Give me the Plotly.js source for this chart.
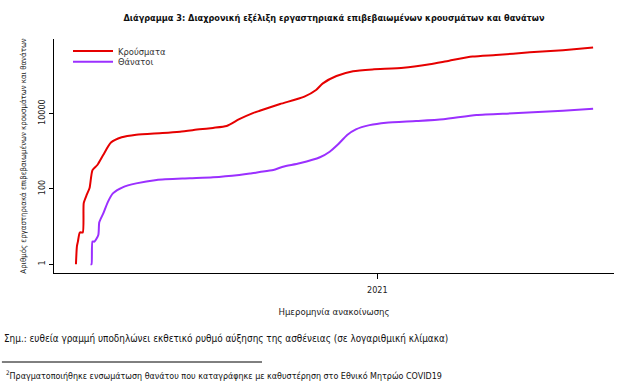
<!DOCTYPE html>
<html>
<head>
<meta charset="utf-8">
<script src="https://cdn.plot.ly/plotly-3.0.1.min.js"></script>
<style>html,body{margin:0;padding:0;background:#fff;}#chart{width:631px;height:382px;}</style>
</head>
<body>
<div id="chart"></div>
<script>
var casesDates = ['2020-02-26','2020-02-27','2020-02-28','2020-03-01','2020-03-04','2020-03-05','2020-03-08','2020-03-11','2020-03-14','2020-03-19','2020-03-25','2020-04-02','2020-04-13','2020-04-28','2020-05-25','2020-06-12','2020-07-02','2020-07-16','2020-07-30','2020-08-12','2020-08-26','2020-09-02','2020-09-23','2020-10-18','2020-10-30','2020-11-06','2020-11-20','2020-12-07','2020-12-27','2021-01-28','2021-02-24','2021-03-16','2021-04-09','2021-05-03','2021-06-07','2021-07-11','2021-08-11'];
var casesValues = [1,3,4,7,7,42,69,105,315,430,790,1690,2340,2740,3030,3300,3800,4150,4650,7050,10200,11800,17800,28000,41900,63000,98500,132000,148000,163000,203000,252000,323000,356000,419000,479000,559000];

// Cumulative deaths
var deathsDates = ['2020-03-12','2020-03-13','2020-03-14','2020-03-16','2020-03-20','2020-03-21','2020-03-25','2020-03-30','2020-04-04','2020-04-14','2020-04-28','2020-05-19','2020-06-22','2020-07-16','2020-08-12','2020-08-23','2020-09-02','2020-09-16','2020-09-26','2020-10-13','2020-11-03','2020-11-13','2020-11-22','2020-12-01','2020-12-10','2020-12-24','2021-01-10','2021-02-10','2021-03-10','2021-04-13','2021-05-21','2021-07-11','2021-08-11'];
var deathsValues = [1,1,4,4,6,13,22,46,76,110,140,173,191,204,235,255,280,317,387,478,690,970,1550,2690,3800,4920,5720,6320,7050,9120,10150,11800,13400];

var seriesNames = ['Κρούσματα', 'Θάνατοι'];
var yTickVals = [1, 100, 10000];
var yTickText = ['1', '100', '10000'];
var xTickVals = ['2021-01-01'];
var xTickText = ['2021'];

var FONT = '"DejaVu Sans Condensed", "DejaVu Sans", sans-serif';

var traces = [
  {x: casesDates, y: casesValues, type: 'scatter', mode: 'lines', name: seriesNames[0],
   line: {color: '#e60000', width: 2, shape: 'spline', smoothing: 0.6}, legend: 'legend'},
  {x: deathsDates, y: deathsValues, type: 'scatter', mode: 'lines', name: seriesNames[1],
   line: {color: '#9b30ff', width: 2, shape: 'spline', smoothing: 0.6}, legend: 'legend2'}
];

var legendCommon = {
  xanchor: 'left', yanchor: 'middle', bgcolor: 'rgba(0,0,0,0)', borderwidth: 0,
  font: {family: FONT, size: 9.3, color: '#333'}, itemwidth: 40, tracegroupgap: 0
};

var layout = {
  width: 631, height: 382,
  margin: {l: 54, r: 17, t: 39, b: 109},
  paper_bgcolor: '#fff', plot_bgcolor: '#fff',
  font: {family: FONT, color: '#222'},
  title: {
    text: '<b>Διάγραμμα 3: Διαχρονική εξέλιξη εργαστηριακά επιβεβαιωμένων κρουσμάτων και θανάτων</b>',
    font: {family: FONT, size: 9.1, color: '#111'},
    xref: 'paper', x: 0.5, xanchor: 'center',
    yref: 'container', y: 1 - 18/382, yanchor: 'middle'
  },
  showlegend: true,
  legend: Object.assign({x: 0.025, y: 0.949}, legendCommon),
  legend2: Object.assign({x: 0.025, y: 0.9025}, legendCommon),
  xaxis: {
    type: 'date',
    range: ['2020-02-03 10:00', '2021-09-01 12:00'],
    showgrid: false, zeroline: false,
    showline: true, linecolor: '#000', linewidth: 1,
    ticks: 'outside', ticklen: 5, tickcolor: '#000', tickwidth: 1,
    tickvals: xTickVals, ticktext: xTickText,
    ticklabelstandoff: 3,
    tickfont: {family: FONT, size: 9, color: '#222'},
    title: {text: 'Ημερομηνία ανακοίνωσης', font: {family: FONT, size: 9.5, color: '#222'}, standoff: 14}
  },
  yaxis: {
    type: 'log',
    range: [-0.231, 5.976],
    showgrid: false, zeroline: false,
    showline: true, linecolor: '#000', linewidth: 1,
    ticks: 'outside', ticklen: 4, tickcolor: '#000', tickwidth: 1,
    tickvals: yTickVals, ticktext: yTickText,
    tickangle: -90,
    tickfont: {family: FONT, size: 9, color: '#222'},
    title: {text: 'Αριθμός εργαστηριακά επιβεβαιωμένων κρουσμάτων και θανάτων', font: {family: FONT, size: 7.8, color: '#222'}, standoff: 9}
  },
  annotations: [
    {xref: 'paper', yref: 'paper', x: -0.093, y: (273-338)/234, xanchor: 'left', yanchor: 'middle', showarrow: false,
     text: 'Σημ.: ευθεία γραμμή υποδηλώνει εκθετικό ρυθμό αύξησης της ασθένειας (σε λογαριθμική κλίμακα)',
     font: {family: FONT, size: 9.9, color: '#111'}},
    {xref: 'paper', yref: 'paper', x: -0.090, y: (273-375)/234, xanchor: 'left', yanchor: 'middle', showarrow: false,
     text: '<sup>2</sup>Πραγματοποιήθηκε ενσωμάτωση θανάτου που καταγράφηκε με καθυστέρηση στο Εθνικό Μητρώο COVID19',
     font: {family: FONT, size: 8.9, color: '#111'}}
  ],
  shapes: [
    {type: 'line', xref: 'paper', yref: 'paper', x0: -0.093, x1: (262-54)/560, y0: (273-362)/234, y1: (273-362)/234,
     line: {color: '#000', width: 1}}
  ]
};

Plotly.newPlot('chart', traces, layout, {displayModeBar: false, staticPlot: true});
</script>
</body>
</html>
